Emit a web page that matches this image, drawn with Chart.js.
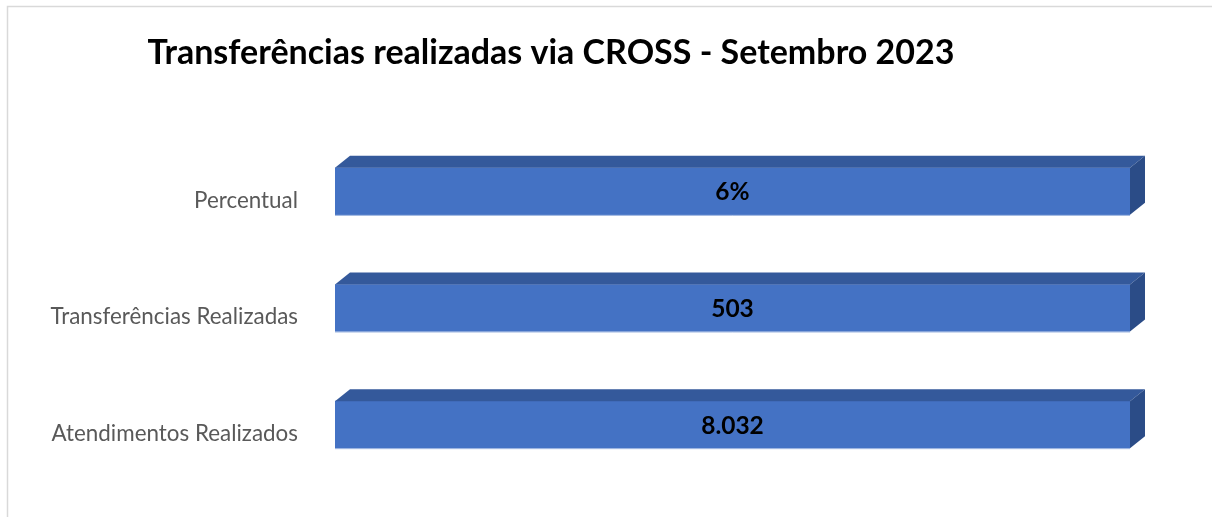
<!DOCTYPE html>
<html>
<head>
<meta charset="utf-8">
<script src="https://cdn.jsdelivr.net/npm/chart.js@4/dist/chart.umd.min.js"></script>
<style>
  html, body { margin: 0; padding: 0; background: #fff; }
  #wrap { width: 1212px; height: 517px; }
</style>
</head>
<body>
<div id="wrap"><canvas id="myChart" width="1212" height="517"></canvas></div>
<script>
const titleText = "Transferências realizadas via CROSS - Setembro 2023";

const categories = ["Percentual", "Transferências Realizadas", "Atendimentos Realizados"];
const values = [0.06, 503, 8032];
const valueLabels = ["6%", "503", "8.032"];

// 100% stacked bar with a single series: each bar is 100% of its own stack
const shares = values.map((v) => (v / v) * 100);

const front = "#4472C4";
const topFace = "#34599B";
const sideFace = "#2B4C87";
const depthX = 15;
const depthY = 12;

const frame = {
  id: "frame",
  beforeDraw(chart) {
    const c = chart.ctx;
    c.save();
    c.fillStyle = "#fff";
    c.fillRect(0, 0, chart.width, chart.height);
    c.strokeStyle = "#d9d9d9";
    c.lineWidth = 1.5;
    c.beginPath();
    c.moveTo(7.5, chart.height);
    c.lineTo(7.5, 6.5);
    c.lineTo(chart.width, 6.5);
    c.stroke();

    c.fillStyle = "#000";
    c.font = "bold 34px Lato";
    c.textAlign = "center";
    c.textBaseline = "middle";
    c.fillText(titleText, 551, 53);
    c.restore();
  }
};

const bars3d = {
  id: "bars3d",
  afterDatasetsDraw(chart) {
    const c = chart.ctx;
    const meta = chart.getDatasetMeta(0);
    c.save();
    meta.data.forEach((bar, i) => {
      const p = bar.getProps(["x", "y", "base", "height"], true);
      const left = p.base, right = p.x;
      const top = p.y - p.height / 2, bottom = p.y + p.height / 2;

      c.fillStyle = topFace;
      c.beginPath();
      c.moveTo(left, top);
      c.lineTo(left + depthX, top - depthY);
      c.lineTo(right + depthX, top - depthY);
      c.lineTo(right, top);
      c.closePath();
      c.fill();

      c.fillStyle = sideFace;
      c.beginPath();
      c.moveTo(right, top);
      c.lineTo(right + depthX, top - depthY);
      c.lineTo(right + depthX, bottom - depthY);
      c.lineTo(right, bottom);
      c.closePath();
      c.fill();

      c.strokeStyle = "#9db5e0";
      c.lineWidth = 1;
      c.beginPath();
      c.moveTo(left, bottom + 0.5);
      c.lineTo(right, bottom + 0.5);
      c.stroke();

      c.fillStyle = "#000";
      c.font = "bold 24.5px Lato";
      c.textAlign = "center";
      c.textBaseline = "middle";
      c.fillText(valueLabels[i], (left + right) / 2, p.y + 1);
    });
    c.restore();
  }
};

new Chart(document.querySelector("#myChart"), {
  type: "bar",
  data: {
    labels: categories,
    datasets: [{
      label: "Valor",
      data: shares,
      backgroundColor: front,
      borderWidth: 0,
      barThickness: 47
    }]
  },
  options: {
    indexAxis: "y",
    responsive: false,
    animation: false,
    layout: { padding: { top: 133, right: 82, bottom: 34, left: 0 } },
    plugins: {
      legend: { display: false },
      title: { display: false },
      tooltip: { enabled: false }
    },
    scales: {
      x: { display: false, min: 0, max: 100, stacked: true },
      y: {
        stacked: true,
        grid: { display: false },
        border: { display: false },
        afterFit(scale) {
          scale.width = 335;
          scale.paddingTop = 0;
          scale.paddingBottom = 0;
        },
        ticks: {
          padding: 29,
          labelOffset: 9,
          color: "#595959",
          font: { family: "Lato", size: 22.4 }
        }
      }
    }
  },
  plugins: [frame, bars3d]
});
</script>
</body>
</html>
